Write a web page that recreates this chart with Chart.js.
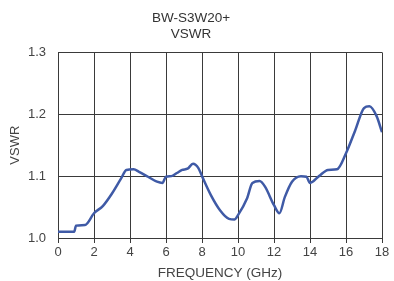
<!DOCTYPE html>
<html>
<head>
<meta charset="utf-8">
<script src="https://cdn.jsdelivr.net/npm/chart.js@4"></script>
<style>
  html, body { margin: 0; padding: 0; background: #fff; }
  #wrap { width: 394px; height: 281px; }
</style>
</head>
<body>
<div id="wrap"><canvas id="vswrChart" width="394" height="281"></canvas></div>
<script>
// VSWR curve
const freqGHz = [0, 0.9, 1.0, 1.5, 2, 2.5, 3, 3.5, 3.8, 4.2, 4.5, 5, 5.5, 5.8, 6, 6.3, 6.6, 6.9, 7.2, 7.5, 7.8,
  8, 8.5, 9, 9.5, 9.8, 10, 10.5, 10.8, 11.2, 11.5, 12, 12.3, 12.6, 13, 13.5, 13.8, 14, 14.5, 15, 15.5, 16, 16.5, 17, 17.3, 17.7, 18];
const vswr = [1.01, 1.01, 1.02, 1.021, 1.04, 1.052, 1.072, 1.096, 1.11, 1.111, 1.107, 1.099, 1.091, 1.089, 1.099, 1.1, 1.105, 1.11, 1.112, 1.12, 1.113,
  1.1, 1.069, 1.045, 1.031, 1.03, 1.037, 1.064, 1.089, 1.092, 1.083, 1.053, 1.04, 1.066, 1.091, 1.1, 1.099, 1.089, 1.1, 1.11, 1.111, 1.137, 1.173, 1.21, 1.213, 1.197, 1.171];
const titleLines = ['BW-S3W20+', 'VSWR'];
const xTicks = [0, 2, 4, 6, 8, 10, 12, 14, 16, 18];
const yTicks = [1.0, 1.1, 1.2, 1.3];

const gridColor = '#3a3a3a';
const textColor = '#444';
const font = 'Liberation Sans, Arial, sans-serif';

new Chart(document.getElementById('vswrChart'), {
  type: 'line',
  data: {
    datasets: [{
      label: 'VSWR',
      data: freqGHz.map((f, i) => ({ x: f, y: vswr[i] })),
      borderColor: '#3f5aa6',
      borderWidth: 2.5,
      pointRadius: 0,
      cubicInterpolationMode: 'monotone',
      fill: false
    }]
  },
  options: {
    responsive: false,
    animation: false,
    layout: { padding: { left: 0, right: 12, top: 0, bottom: 0 } },
    plugins: {
      legend: { display: false },
      tooltip: { enabled: false },
      title: {
        display: true,
        text: titleLines,
        color: '#333',
        font: { family: font, size: 13.5, weight: 'normal', lineHeight: 1.2 },
        padding: { top: 10, bottom: 10 }
      }
    },
    scales: {
      x: {
        type: 'linear',
        min: 0,
        max: 18,
        afterBuildTicks: s => { s.ticks = xTicks.map(v => ({ value: v })); },
        afterFit: s => { s.height = 43; },
        grid: { color: gridColor, lineWidth: 1, tickLength: 5, drawTicks: true },
        border: { color: gridColor, width: 1 },
        ticks: { color: textColor, font: { family: font, size: 13 }, padding: 2, maxRotation: 0 },
        title: {
          display: true,
          text: 'FREQUENCY (GHz)',
          color: textColor,
          font: { family: font, size: 13.5 },
          padding: { top: 0, bottom: 0 }
        }
      },
      y: {
        min: 1.0,
        max: 1.3,
        afterBuildTicks: s => { s.ticks = yTicks.map(v => ({ value: v })); },
        afterFit: s => { s.width = 58; },
        grid: { color: gridColor, lineWidth: 1, drawTicks: false },
        border: { color: gridColor, width: 1 },
        ticks: {
          color: textColor,
          font: { family: font, size: 13 },
          padding: 12,
          callback: v => Number(v).toFixed(1)
        },
        title: {
          display: true,
          text: 'VSWR',
          color: textColor,
          font: { family: font, size: 13 },
          padding: { top: 8, bottom: 0 }
        }
      }
    }
  }
});
</script>
</body>
</html>
